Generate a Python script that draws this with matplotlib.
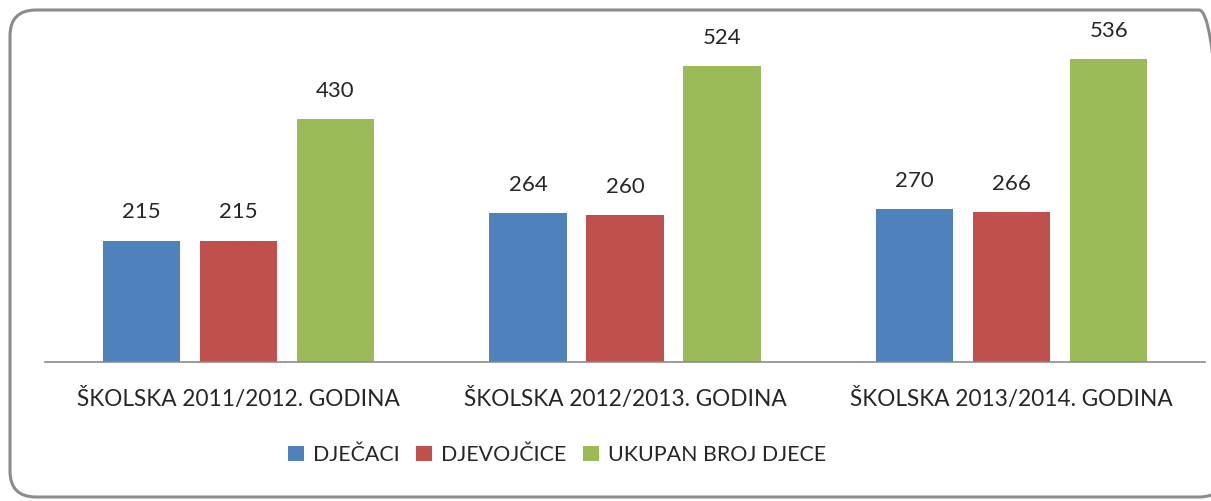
import matplotlib.pyplot as plt
from matplotlib.patches import FancyBboxPatch
from matplotlib.transforms import IdentityTransform
import numpy as np

# chart data
categories = ["ŠKOLSKA 2011/2012. GODINA", "ŠKOLSKA 2012/2013. GODINA", "ŠKOLSKA 2013/2014. GODINA"]
series_names = ["DJEČACI", "DJEVOJČICE", "UKUPAN BROJ DJECE"]
boys = [215, 264, 270]
girls = [215, 260, 266]
total = [430, 524, 536]

colors = ["#4F81BD", "#C0504D", "#9BBB59"]

plt.rcParams['font.family'] = ['Lato', 'DejaVu Sans']

W, H = 1211, 501
fig = plt.figure(figsize=(W / 100, H / 100), dpi=100)

# rounded frame around the whole chart (pixel coords, runs off the right edge)
frame = FancyBboxPatch((10, 4), 1215, 487,
                       boxstyle="round,pad=0,rounding_size=26",
                       transform=IdentityTransform(), fill=False,
                       edgecolor="#8c8c8c", linewidth=2.2)
fig.patches.append(frame)

ax = fig.add_axes([45 / W, 1 - 362 / H, 1160 / W, 339 / H])

x = np.arange(len(categories))
width = 0.2
step = 0.251
for i, (vals, name) in enumerate(zip([boys, girls, total], series_names)):
    bars = ax.bar(x + (i - 1) * step, vals, width, color=colors[i], label=name)
    ax.bar_label(bars, padding=13, fontsize=16, color="#262626")

ax.set_xlim(-0.5, 2.5)
ax.set_ylim(0, 600)
ax.set_yticks([])
ax.set_xticks(x)
ax.set_xticklabels(categories, fontsize=16.3, color="#262626")
ax.tick_params(axis='x', length=0, pad=19)
for s in ['top', 'right', 'left']:
    ax.spines[s].set_visible(False)
ax.spines['bottom'].set_color("#8c8c8c")
ax.spines['bottom'].set_linewidth(1.2)

fig.legend(loc='center', bbox_to_anchor=(557 / W, 1 - 455 / H), ncol=3,
           frameon=False, fontsize=15.4, handlelength=0.75, handleheight=0.75,
           handletextpad=0.4, columnspacing=0.8, labelcolor="#262626")

fig.savefig("out.png", dpi=100)
